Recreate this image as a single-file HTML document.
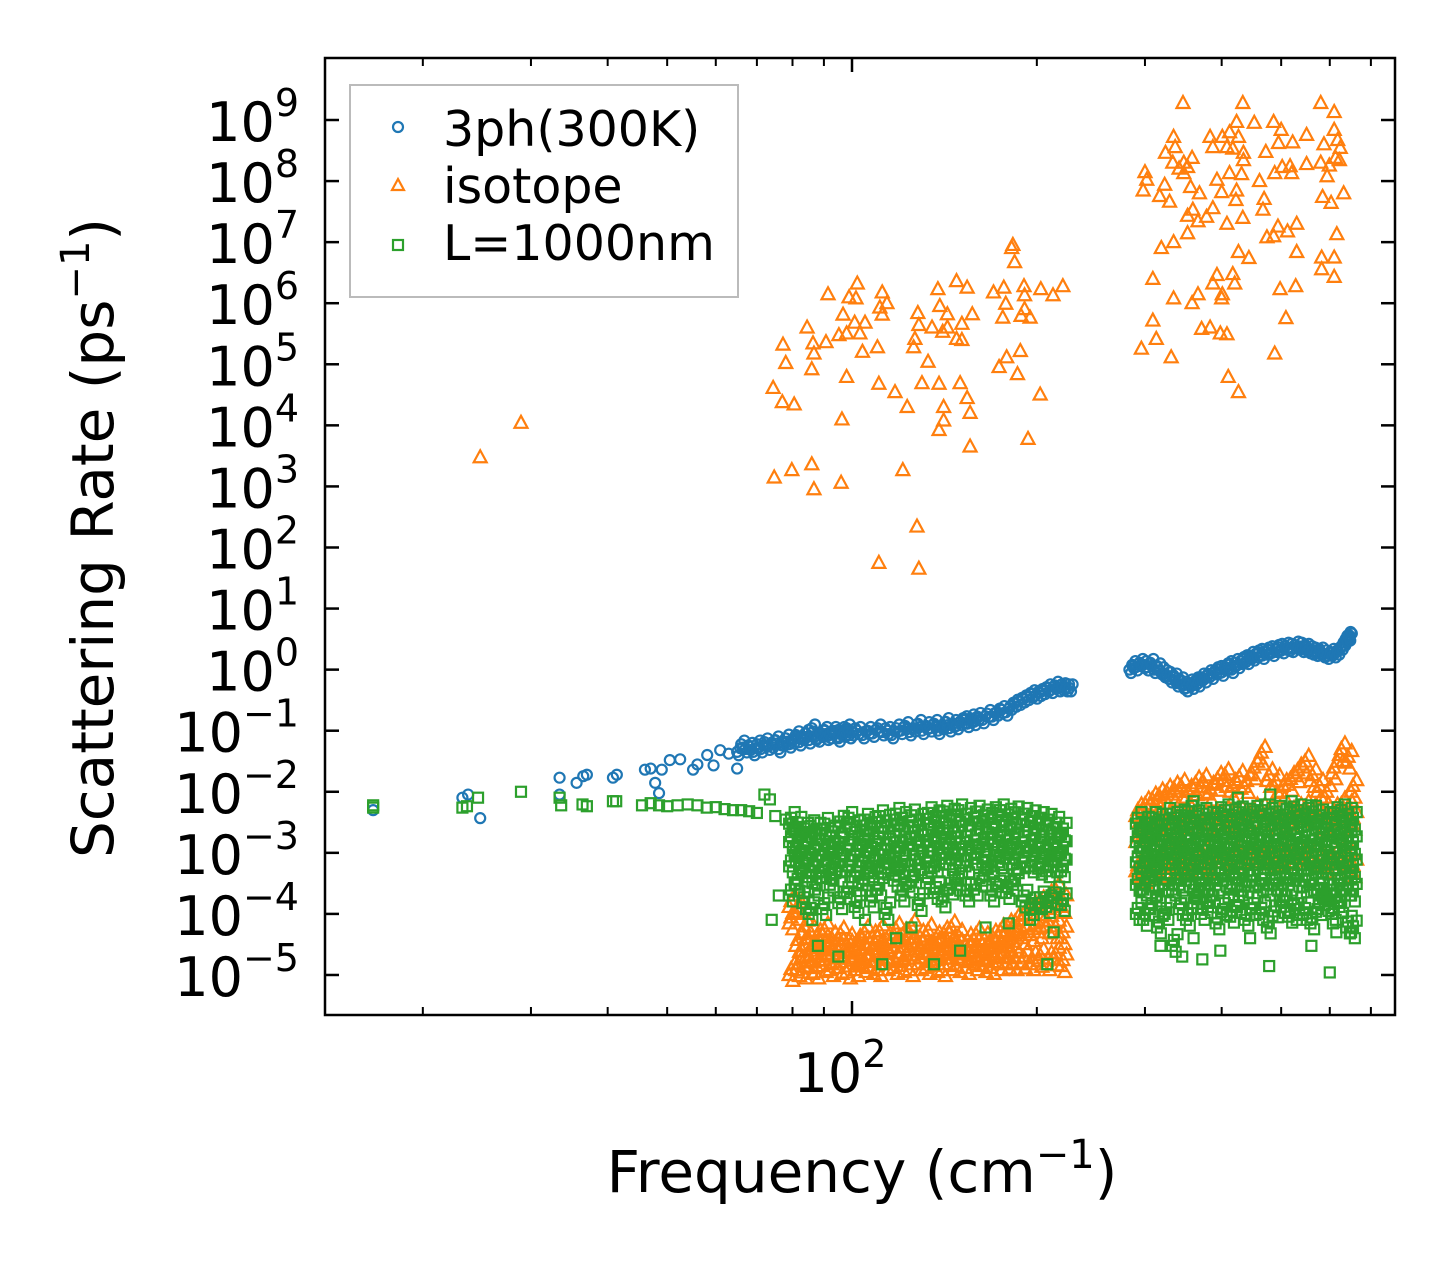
<!DOCTYPE html>
<html>
<head>
<meta charset="utf-8">
<style>
  html, body { margin: 0; padding: 0; background: #fff; }
  svg { display: block; }
  text { font-family: "DejaVu Sans", "Liberation Sans", sans-serif; fill: #000; }
</style>
</head>
<body>
<svg id="chart" width="1455" height="1265" viewBox="0 0 1455 1265" xmlns="http://www.w3.org/2000/svg">
  <rect x="0" y="0" width="1455" height="1265" fill="#fff"/>
  <g id="marks"></g>
  <g id="axes"></g>
  <g id="legend">
    <rect x="350" y="85" width="388" height="212" fill="#fff" fill-opacity="0.85" stroke="#bbb" stroke-width="2"/>
    <circle cx="398" cy="127" r="5" fill="none" stroke="#1f77b4" stroke-width="2.2"/>
    <text x="443" y="146" font-size="49">3ph(300K)</text>
    <path d="M398,179 L404,190 L392,190 Z" fill="none" stroke="#ff7f0e" stroke-width="2.2"/>
    <text x="443" y="203" font-size="49">isotope</text>
    <rect x="393" y="240" width="10" height="10" fill="none" stroke="#2ca02c" stroke-width="2.2"/>
    <text x="443" y="260" font-size="49">L=1000nm</text>
  </g>
  <text x="862" y="1192" font-size="58" text-anchor="middle">Frequency (cm<tspan dy="-24" font-size="40">−1</tspan><tspan dy="24">)</tspan></text>
  <text transform="translate(113,538) rotate(-90)" font-size="58" text-anchor="middle">Scattering Rate (ps<tspan dy="-24" font-size="40">−1</tspan><tspan dy="24">)</tspan></text>
</svg>
<script>
// ---- data ----
const yTickExponents = [9,8,7,6,5,4,3,2,1,0,-1,-2,-3,-4,-5];
const xMajorTicks = [100];
const xMinorTicks = [20,30,40,50,60,70,80,90,200,300,400,500,600,700];

const blueSparse = [[16.6,5e-3],[23.2,8e-3],[23.7,9e-3],[24.8,3.7e-3],[33.4,1.7e-2],[33.4,9e-3],[35.6,1.4e-2],[37,1.9e-2],[36.5,1.8e-2],[40.8,1.7e-2],[41.4,1.9e-2],[46,2.3e-2],[47,2.4e-2],[47.8,1.4e-2],[48.5,9.5e-3],[49,2.3e-2],[50.5,3.3e-2],[52.5,3.4e-2],[55.1,2.3e-2],[56,2.8e-2],[58.1,4e-2],[59.5,2.7e-2],[61,4.8e-2],[63,4.2e-2],[65,2.4e-2]];
const blueDense = [[65,0.045],[66,0.06],[67,0.05],[68,0.055],[69,0.045],[70,0.06],[71,0.05],[72,0.065],[73,0.055],[74,0.06],[75,0.07],[76,0.05],[77,0.065],[78,0.075],[79,0.06],[80,0.07],[81,0.085],[82,0.065],[83,0.08],[84,0.09],[85,0.07],[86,0.11],[87,0.08],[88,0.075],[89,0.09],[90,0.1],[91,0.08],[92,0.085],[93,0.1],[94,0.09],[95,0.075],[96,0.1],[97,0.09],[98,0.11],[99,0.085],[100,0.095],[102,0.1],[104,0.085],[106,0.1],[108,0.09],[110,0.11],[112,0.095],[114,0.1],[116,0.085],[118,0.11],[120,0.1],[122,0.12],[124,0.095],[126,0.11],[128,0.13],[130,0.1],[132,0.12],[134,0.11],[136,0.13],[138,0.1],[140,0.12],[142,0.14],[144,0.11],[146,0.13],[148,0.12],[150,0.14],[152,0.15],[154,0.13],[156,0.16],[158,0.14],[160,0.17],[163,0.15],[166,0.19],[169,0.17],[172,0.2],[175,0.22],[178,0.2],[181,0.25],[184,0.28],[187,0.3],[190,0.33],[193,0.36],[196,0.4],[199,0.38],[202,0.42],[205,0.45],[208,0.5],[211,0.47],[214,0.55],[217,0.5],[220,0.52],[223,0.5],[226,0.5],
[283,1.0],[286,1.2],[290,1.1],[294,1.3],[298,1.2],[302,1.1],[306,1.3],[310,1.0],[314,1.1],[318,0.95],[322,0.85],[326,0.8],[330,0.7],[334,0.75],[338,0.6],[342,0.65],[346,0.55],[350,0.5],[354,0.6],[358,0.55],[362,0.65],[366,0.6],[370,0.75],[375,0.7],[380,0.85],[385,0.8],[390,0.95],[395,1.0],[400,0.9],[405,1.1],[410,1.2],[415,1.0],[420,1.3],[425,1.2],[430,1.4],[435,1.5],[440,1.4],[445,1.7],[450,1.6],[455,1.8],[460,1.9],[466,1.7],[472,2.0],[478,2.1],[484,1.9],[490,2.2],[496,2.3],[502,2.1],[508,2.4],[514,2.3],[520,2.2],[527,2.5],[534,2.4],[541,2.2],[548,2.3],[555,2.1],[562,2.0],[570,1.9],[578,2.0],[586,1.8],[594,1.7],[602,1.9],[610,1.8],[618,2.0],[626,2.4],[632,2.8],[637,3.2],[641,3.6],[644,3.4]];

const orangeHigh = [[24.8,3e3],[28.9,1.1e4],
[182.8,9e6],[182,8e6],[184,4.7e6],[102,2.1e6],[91.4,1.4e6],[98.9,1.25e6],[101.5,1.2e6],[112,1.5e6],[114,1e6],[111,8.5e5],[112,6.5e5],[96.7,6.5e5],[101,4.8e5],[105,4.8e5],[103,3.2e5],[95.2,3e5],[98,3.2e5],[84.5,4e5],[86.4,2.2e5],[90.7,2.3e5],[77.2,2.1e5],[86.7,1.5e5],[104,1.6e5],[110,1.9e5],[78,1.05e5],[86,8.3e4],[98,6.2e4],[74.4,4.1e4],[77,2.4e4],[80.5,2.2e4],[96.3,1.25e4],[74.7,1.4e3],[79.8,1.85e3],[86,2.3e3],[86.7,900],[96,1.15e3],[121,1.85e3],[127.6,220],[110.6,56],[128.5,45],[138,1.7e6],[148,2.3e6],[154,1.8e6],[139,9e5],[143,6.6e5],[128,6.9e5],[128.5,4.4e5],[135,4e5],[140.5,3.4e5],[143,4e5],[151,4.6e5],[157,6.6e5],[148,2.6e5],[151,2.5e5],[126.6,2.6e5],[126,1.9e5],[133,1.1e5],[110.6,4.8e4],[117.5,3.5e4],[130,4.9e4],[138.6,4.8e4],[150,4.9e4],[154,2.8e4],[123,2e4],[141,2e4],[155.7,1.6e4],[141,1.2e4],[138.6,8.4e3],[155.7,4.5e3],[170,1.5e6],[176.7,1.8e6],[190.6,1.9e6],[191,1.35e6],[203,1.7e6],[212.5,1.35e6],[220.5,1.9e6],[178,9.8e5],[176,5.8e5],[188.5,6.2e5],[191,8e5],[195,5.8e5],[178.6,1.3e5],[173.6,9e4],[188,1.65e5],[186,6.9e4],[202.5,3.2e4],[193.5,6e3],
[346,1.9e9],[433,1.9e9],[580,1.9e9],[610,1.35e9],[423,9.3e8],[452,9e8],[486,9.3e8],[500,6.9e8],[550,5.7e8],[610,6.9e8],[334,5.3e8],[383,5.3e8],[401,5.3e8],[412,6.3e8],[426,5.3e8],[495,4.2e8],[522,4.3e8],[587,4e8],[618,4.7e8],[336,3.6e8],[387,3.6e8],[408,3.6e8],[417,3.4e8],[472,3e8],[324,2.9e8],[434,2.9e8],[624,3.5e8],[333,2e8],[347,2e8],[358,2.4e8],[434,2.2e8],[550,1.9e8],[580,2e8],[613,2.4e8],[622,2.2e8],[341,1.6e8],[352,1.7e8],[502,1.7e8],[517,1.75e8],[599,1.8e8],[300,1.4e8],[347,1.35e8],[412,1.35e8],[431,1.3e8],[488,1.35e8],[520,1.35e8],[302,1.05e8],[393,1.05e8],[461,1e8],[594,1.2e8],[298,7e7],[323,8.7e7],[356,8e7],[400,6.6e7],[423,7e7],[317,5.7e7],[368,6.3e7],[329,4.6e7],[469,5.1e7],[422,4.9e7],[584,5.5e7],[632,6.3e7],[603,4.4e7],[387,3.6e7],[467,3.4e7],[359,3.4e7],[352,2.7e7],[366,2.2e7],[378,2.6e7],[408,2e7],[433,2.5e7],[352,1.4e7],[334,1e7],[319,8e6],[474,1.2e7],[486,1.25e7],[494,1.8e7],[512,1.5e7],[530,2e7],[616,1.35e7],[426,6.9e6],[443,5.5e6],[530,6.9e6],[582,5.6e6],[610,5.6e6],[582,3.6e6],[610,2.7e6],[309,2.5e6],[393,2.9e6],[387,2.1e6],[417,3e6],[420,2.1e6],[334,1.2e6],[366,1.4e6],[358,1e6],[401,1.4e6],[400,1.2e6],[498,1.7e6],[528,1.9e6],[309,5.2e5],[509,5.7e5],[371,3.8e5],[383,4e5],[398,3.2e5],[408,3.1e5],[313,2.6e5],[296,1.8e5],[331,1.3e5],[488,1.5e5],[410,6.2e4],[426,3.5e4]];

const lowBandLeftF = [79,81,83,85,87,89.5,92,95,98,101,104,107,110,113,117,120,124,128,132,136,140,144,148,153,158,163,168,173,178,183,189,195,201,207,213,219];
const orangeLowLeftR = [
[1e-5,7e-5,1.3e-4],[1.2e-5,3e-5,1e-4],[1.1e-5,2.5e-5,5e-5],[1.3e-5,2e-5,4e-5],[1.1e-5,2.2e-5,3.5e-5],[1.4e-5,2.8e-5,4.5e-5],[1.2e-5,2e-5,3.2e-5],[1.3e-5,2.5e-5,3.8e-5],[1.1e-5,2.3e-5,3e-5],[1.2e-5,2e-5,2.8e-5],[1.4e-5,2.6e-5,4e-5],[1.3e-5,2.1e-5,3.3e-5],[1.2e-5,2.4e-5,4.2e-5],[1.5e-5,2.2e-5,3.1e-5],[1.3e-5,2.8e-5,4.5e-5],[1.4e-5,2.3e-5,3.6e-5],[1.2e-5,2.6e-5,5e-5],[1.5e-5,2.4e-5,3.4e-5],[1.3e-5,2.2e-5,4.3e-5],[1.4e-5,2.5e-5,3.2e-5],[1.2e-5,2.3e-5,3.8e-5],[1.5e-5,2.7e-5,4.8e-5],[1.4e-5,2.4e-5,3.5e-5],[1.3e-5,2.2e-5,3e-5],[1.5e-5,2.5e-5,3.7e-5],[1.4e-5,2.1e-5,3.1e-5],[1.3e-5,2.4e-5,3.4e-5],[1.5e-5,2.8e-5,4.2e-5],[1.6e-5,3e-5,5e-5],[1.5e-5,3.5e-5,6e-5],[1.6e-5,4e-5,8e-5],[1.5e-5,4.5e-5,1e-4],[1.7e-5,5e-5,1.2e-4],[1.5e-5,6e-5,1.5e-4],[1.8e-5,5e-5,2e-4],[1.4e-5,4e-5,1.3e-4]];
const greenLowLeftR = [
[3e-3,1.5e-3,6e-4,2e-4],[2.5e-3,1.2e-3,7e-4,3e-4],[2e-3,1e-3,5e-4,1.5e-4],[2.2e-3,8e-4,4e-4,1e-4],[2e-3,1.1e-3,6e-4,2.5e-4],[2.4e-3,9e-4,5e-4,1.2e-4],[1.8e-3,1e-3,4.5e-4,3e-4],[2.6e-3,1.2e-3,6e-4,1.5e-4],[3e-3,1.1e-3,5e-4,2.2e-4],[2.2e-3,9e-4,4e-4,1.3e-4],[2.8e-3,1.3e-3,7e-4,3e-4],[2.5e-3,1e-3,5e-4,1.6e-4],[3.2e-3,1.4e-3,6e-4,2.5e-4],[2.7e-3,1.1e-3,5.5e-4,1e-4],[3.5e-3,1.5e-3,7e-4,3.5e-4],[3e-3,1.2e-3,6e-4,2e-4],[3.3e-3,1.4e-3,5e-4,2.8e-4],[2.8e-3,1.3e-3,6.5e-4,1.4e-4],[3.6e-3,1.6e-3,7e-4,3.2e-4],[3.2e-3,1.5e-3,6e-4,2.2e-4],[3.8e-3,1.7e-3,8e-4,1.6e-4],[3.4e-3,1.4e-3,6.5e-4,2.6e-4],[4e-3,1.8e-3,7.5e-4,3e-4],[3.5e-3,1.5e-3,6e-4,2e-4],[3.8e-3,1.6e-3,8e-4,2.5e-4],[3.3e-3,1.4e-3,7e-4,3.5e-4],[3.6e-3,1.7e-3,6e-4,2e-4],[4e-3,1.5e-3,7e-4,2.8e-4],[3.4e-3,1.6e-3,8e-4,2.2e-4],[3.7e-3,1.4e-3,6.5e-4,3e-4],[3.5e-3,1.5e-3,7e-4,1.6e-4],[3.2e-3,1.3e-3,6e-4,1.2e-4],[3e-3,1.2e-3,5.5e-4,1.5e-4],[2.8e-3,1.1e-3,5e-4,1.3e-4],[2.5e-3,1.2e-3,6e-4,1.8e-4],[2e-3,1e-3,5e-4,1.4e-4]];

const lowBandRightF = [290,298,306,314,323,332,341,350,360,370,380,391,402,413,424,436,448,461,474,487,500,514,528,543,558,573,589,605,622,638,650];
const orangeLowRightR = [
[5e-4,1.5e-3,4e-3],[4e-4,2e-3,5e-3],[6e-4,2e-3,6e-3],[5e-4,2.5e-3,7e-3],[7e-4,3e-3,8e-3],[6e-4,2.5e-3,9e-3],[8e-4,3e-3,1e-2],[6e-4,2.5e-3,8e-3],[7e-4,3e-3,1.1e-2],[8e-4,3e-3,1.2e-2],[6e-4,2.5e-3,9e-3],[7e-4,3e-3,1.3e-2],[8e-4,3.5e-3,1.5e-2],[7e-4,3e-3,1e-2],[9e-4,3.5e-3,1.4e-2],[8e-4,3e-3,1.2e-2],[9e-4,4e-3,2e-2],[8e-4,4e-3,3.5e-2],[9e-4,3.5e-3,1.5e-2],[7e-4,3e-3,1.2e-2],[8e-4,3e-3,1e-2],[7e-4,3.5e-3,1.3e-2],[8e-4,4e-3,1.8e-2],[9e-4,4.5e-3,2.5e-2],[8e-4,4e-3,1.5e-2],[7e-4,3e-3,1e-2],[6e-4,2.5e-3,8e-3],[7e-4,4e-3,2e-2],[8e-4,5e-3,4e-2],[7e-4,4.5e-3,3e-2],[5e-4,3e-3,1e-2]];
const greenLowRightR = [
[3e-3,1.5e-3,7e-4,3e-4,1e-4],[2.5e-3,1.2e-3,6e-4,2.5e-4,8e-5],[3e-3,1.4e-3,7e-4,3.5e-4,1.2e-4],[2.8e-3,1.3e-3,6e-4,2e-4,6e-5],[3.5e-3,1.6e-3,8e-4,3e-4,1e-4],[3e-3,1.4e-3,6.5e-4,2.5e-4,3e-5],[3.3e-3,1.5e-3,7e-4,3e-4,1.2e-4],[3.8e-3,1.6e-3,8e-4,3.5e-4,8e-5],[3.2e-3,1.4e-3,6e-4,2.5e-4,1.5e-4],[3.5e-3,1.6e-3,7e-4,3e-4,1e-4],[3e-3,1.3e-3,6.5e-4,2.5e-4,1.3e-4],[3.6e-3,1.5e-3,7e-4,3e-4,7e-5],[4e-3,1.7e-3,8e-4,3.5e-4,1.2e-4],[3.3e-3,1.4e-3,6e-4,2.5e-4,9e-5],[3.7e-3,1.6e-3,7e-4,3e-4,1.3e-4],[3.4e-3,1.5e-3,6.5e-4,2.8e-4,8e-5],[3.8e-3,1.7e-3,8e-4,3.5e-4,1.2e-4],[4e-3,1.6e-3,7e-4,3e-4,1e-4],[3.5e-3,1.5e-3,6.5e-4,2.5e-4,6e-5],[3.8e-3,1.6e-3,7e-4,3e-4,1.1e-4],[3.4e-3,1.4e-3,6e-4,2.5e-4,1.3e-4],[3.7e-3,1.6e-3,7e-4,3e-4,9e-5],[4e-3,1.7e-3,8e-4,3.5e-4,1.2e-4],[3.5e-3,1.5e-3,6.5e-4,2.8e-4,1e-4],[3.8e-3,1.6e-3,7e-4,3e-4,7e-5],[3.3e-3,1.4e-3,6e-4,2.5e-4,1.2e-4],[3e-3,1.3e-3,5.5e-4,2e-4,1.4e-4],[3.6e-3,1.5e-3,6.5e-4,2.5e-4,1e-4],[4e-3,1.7e-3,7e-4,3e-4,1.3e-4],[3.5e-3,1.5e-3,6e-4,2.5e-4,6e-5],[3e-3,1.2e-3,5e-4,2e-4,5e-5]];

const greenSparse = [[16.6,5.5e-3],[16.6,6e-3],[23.2,5.5e-3],[23.6,5.8e-3],[24.6,8e-3],[28.9,1e-2],[33.4,8e-3],[33.6,6e-3],[36.4,6.2e-3],[37,5.8e-3],[40.8,7e-3],[41.3,7e-3],[45.5,6e-3],[47,6.5e-3],[48.5,6e-3],[50,5.8e-3],[52,6e-3],[54,6.2e-3],[56,6e-3],[58,5.5e-3],[60,5.6e-3],[62,5.2e-3],[64,5e-3],[66,5e-3],[68,4.8e-3],[70,4.5e-3],[72,9e-3],[73.5,7.5e-3],[75,4e-3],[76,2e-4],[74,8e-5],[78,3.5e-3],[80,3e-3],[84,1.5e-3],[86,5e-4],[88,3e-5],[95,2e-5],[112,1.5e-5],[118,4e-5],[105,8e-5],[125,6e-5],[136,1.5e-5],[150,2.5e-5],[165,6e-5],[180,7e-5],[195,8e-5],[208,1.5e-5],[213,5e-5],[318,3e-5],[345,2e-5],[360,4e-5],[372,1.8e-5],[398,2.5e-5],[445,4e-5],[478,1.4e-5],[530,8e-5],[560,3e-5],[600,1.1e-5],[615,5e-5],[607,7e-5],[296,2.5e-4],[425,8e-3],[480,9e-3],[520,7e-3],[360,7e-3],[560,6e-3]];

// ---- axes functions ----
const PX_PER_DEC_X = 614, PX_PER_DEC_Y = 61.07;
function X(f) { return 852 + (Math.log10(f) - 2) * PX_PER_DEC_X; }
function Y(r) { return 120 + (9 - Math.log10(r)) * PX_PER_DEC_Y; }
const NS = "http://www.w3.org/2000/svg";
const marks = document.getElementById('marks');
const axes = document.getElementById('axes');

function mk(tag, attrs, parent) {
  const el = document.createElementNS(NS, tag);
  for (const k in attrs) el.setAttribute(k, attrs[k]);
  parent.appendChild(el);
  return el;
}
function circle(f, r) {
  const el = mk('circle', {cx: X(f), cy: Y(r), r: 5, fill: 'none', stroke: '#1f77b4', 'stroke-width': 2.2}, marks);
  
  
}
function tri(f, r) {
  const x = X(f), y = Y(r);
  const el = mk('path', {d: `M${x},${y-7} L${x+6.5},${y+5} L${x-6.5},${y+5} Z`, fill: 'none', stroke: '#ff7f0e', 'stroke-width': 2.2}, marks);
  
  
}
function sq(f, r) {
  const el = mk('rect', {x: X(f) - 5, y: Y(r) - 5, width: 10, height: 10, fill: 'none', stroke: '#2ca02c', 'stroke-width': 2.2}, marks);
  
  
}

// rendering density: each band value is drawn as a small cluster of overlapping markers
const fJit = [1, 1.007, 1.014, 1.021];
const rJit = [1, 1.25, 0.8, 1.55];

// blue series
blueSparse.forEach(p => circle(p[0], p[1]));
blueDense.forEach(p => { circle(p[0], p[1]); circle(p[0] * 1.012, p[1] * 1.15); circle(p[0] * 1.006, p[1] * 0.88); });
// orange series
orangeHigh.forEach(p => tri(p[0], p[1]));
lowBandLeftF.forEach((f, i) => orangeLowLeftR[i].forEach(r => fJit.forEach((fj, k) => tri(f * fj, r * rJit[k]))));
lowBandRightF.forEach((f, i) => orangeLowRightR[i].forEach(r => fJit.forEach((fj, k) => tri(f * fj, r * rJit[k]))));
// green series
greenSparse.forEach(p => sq(p[0], p[1]));
lowBandLeftF.forEach((f, i) => greenLowLeftR[i].forEach(r => fJit.forEach((fj, k) => sq(f * fj, r * rJit[k]))));
lowBandRightF.forEach((f, i) => greenLowRightR[i].forEach(r => fJit.forEach((fj, k) => sq(f * fj, r * rJit[k]))));

// ---- axes frame & ticks ----
const L = 325, R = 1395, T = 58, B = 1015;
const frame = mk('rect', {x: L, y: T, width: R - L, height: B - T, fill: 'none', stroke: '#000', 'stroke-width': 2.5}, axes);



yTickExponents.forEach(e => {
  const y = Y(Math.pow(10, e));
  const t1 = mk('line', {x1: L, x2: L + 14, y1: y, y2: y, stroke: '#000', 'stroke-width': 2.5}, axes);
  
  
  const t2 = mk('line', {x1: R, x2: R - 14, y1: y, y2: y, stroke: '#000', 'stroke-width': 2.5}, axes);
  
  
  const txt = mk('text', {x: 299, y: y + 21, 'font-size': 54, 'text-anchor': 'end'}, axes);
  
  
  const s = e < 0 ? '−' + Math.abs(e) : String(e);
  txt.innerHTML = `10<tspan dy="-25" font-size="38">${s}</tspan>`;
});
xMajorTicks.forEach(f => {
  const x = X(f);
  const a = mk('line', {x1: x, x2: x, y1: B, y2: B - 14, stroke: '#000', 'stroke-width': 2.5}, axes);
  
  
  const b = mk('line', {x1: x, x2: x, y1: T, y2: T + 14, stroke: '#000', 'stroke-width': 2.5}, axes);
  
  
  const txt = mk('text', {x: x - 12, y: 1092, 'font-size': 54, 'text-anchor': 'middle'}, axes);
  
  
  txt.innerHTML = `10<tspan dy="-25" font-size="38">${Math.round(Math.log10(f))}</tspan>`;
});
xMinorTicks.forEach(f => {
  const x = X(f);
  const a = mk('line', {x1: x, x2: x, y1: B, y2: B - 8, stroke: '#000', 'stroke-width': 2}, axes);
  
  
  const b = mk('line', {x1: x, x2: x, y1: T, y2: T + 8, stroke: '#000', 'stroke-width': 2}, axes);
  
  
});
</script>
</body>
</html>
